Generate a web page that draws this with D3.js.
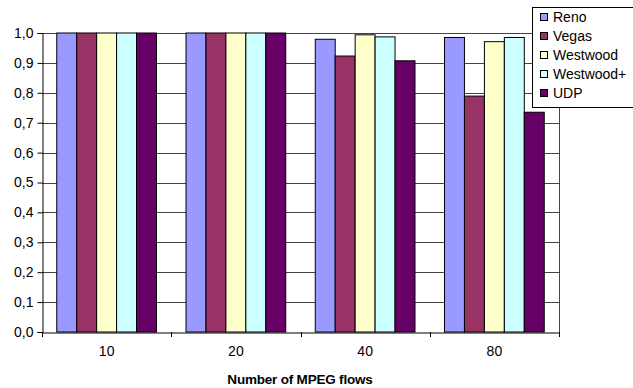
<!DOCTYPE html>
<html>
<head>
<meta charset="utf-8">
<script src="https://cdn.jsdelivr.net/npm/d3@7"></script>
<style>
body { margin: 0; background: #fff; }
text { font-family: Arial, "Liberation Sans", sans-serif; }
</style>
</head>
<body>
<svg id="chart" width="633" height="388"></svg>
<script>
var categories = ["10", "20", "40", "80"];
var seriesNames = ["Reno", "Vegas", "Westwood", "Westwood+", "UDP"];
var reno = [1.0, 1.0, 0.979, 0.985];
var vegas = [1.0, 1.0, 0.923, 0.789];
var westwood = [1.0, 1.0, 0.994, 0.971];
var westwoodPlus = [1.0, 1.0, 0.987, 0.985];
var udp = [1.0, 1.0, 0.907, 0.735];
var yTicks = [0, 0.1, 0.2, 0.3, 0.4, 0.5, 0.6, 0.7, 0.8, 0.9, 1.0];
var colors = ["#9999ff", "#993366", "#ffffcc", "#ccffff", "#660066"];

var seriesValues = [reno, vegas, westwood, westwoodPlus, udp];

var svg = d3.select("#chart");
var plotLeft = 42, plotRight = 559, plotTop = 33, plotBottom = 332;

var x = d3.scaleBand().domain(categories).range([plotLeft, plotRight]).paddingInner(0).paddingOuter(0);
var xs = d3.scaleBand().domain(seriesNames).range([0, x.bandwidth()]).paddingInner(0).paddingOuter(0.74);
var y = d3.scaleLinear().domain([0, 1]).range([plotBottom, plotTop]);

// gridlines
svg.append("g").selectAll("line").data(yTicks.slice(1))
    .enter().append("line")
    .attr("x1", plotLeft).attr("x2", plotRight)
    .attr("y1", d => Math.round(y(d)) + 0.5).attr("y2", d => Math.round(y(d)) + 0.5)
    .style("stroke", "#444").style("stroke-width", 1);

// bars
var groups = svg.append("g").selectAll("g").data(categories)
    .enter().append("g")
    .attr("transform", d => "translate(" + x(d) + ",0)");
groups.selectAll("rect")
    .data((c, ci) => seriesNames.map((s, si) => ({s: s, si: si, v: seriesValues[si][ci]})))
    .enter().append("rect")
    .attr("x", d => xs(d.s))
    .attr("width", xs.bandwidth())
    .attr("y", d => y(d.v))
    .attr("height", d => y(0) - y(d.v))
    .style("fill", d => colors[d.si])
    .style("stroke", "#000").style("stroke-width", 1);

// right border of plot
svg.append("line").attr("x1", plotRight + 0.5).attr("x2", plotRight + 0.5).attr("y1", plotTop).attr("y2", plotBottom)
    .style("stroke", "#444");

// y axis
var yAxis = svg.append("g").attr("transform", "translate(" + (plotLeft + 0.5) + ",0)")
    .call(d3.axisLeft(y).tickValues(yTicks).tickSize(5).tickPadding(4)
        .tickFormat(d => d3.format(".1f")(d).replace(".", ",")));
yAxis.selectAll("text").style("font-size", "14px").style("fill", "#000");
yAxis.selectAll("line, path").style("stroke", "#000");

// x axis
var xAxis = svg.append("g").attr("transform", "translate(0," + (plotBottom + 0.5) + ")")
    .call(d3.axisBottom(x).tickSize(0).tickPadding(14));
xAxis.select(".domain").style("stroke", "#000");
xAxis.selectAll("text").style("font-size", "14px").style("fill", "#000");
svg.append("g").selectAll("line").data(d3.range(categories.length + 1))
    .enter().append("line")
    .attr("x1", i => Math.round(plotLeft + i * x.step()) + 0.5)
    .attr("x2", i => Math.round(plotLeft + i * x.step()) + 0.5)
    .attr("y1", plotBottom).attr("y2", plotBottom + 5)
    .style("stroke", "#000");

svg.append("text").attr("x", 300).attr("y", 384)
    .attr("text-anchor", "middle")
    .style("font-size", "13.5px").style("font-weight", "bold").style("letter-spacing", "-0.2px")
    .text("Number of MPEG flows");

// legend
var legend = svg.append("g").attr("transform", "translate(532,7)");
legend.append("rect").attr("x", 0.5).attr("y", 0.5).attr("width", 120).attr("height", 100)
    .style("fill", "#fff").style("stroke", "#000");
var items = legend.selectAll(".item").data(seriesNames)
    .enter().append("g")
    .attr("transform", (d, i) => "translate(0," + (10 + i * 19) + ")");
items.append("rect").attr("x", 8.5).attr("y", -3.5).attr("width", 7).attr("height", 7)
    .style("fill", (d, i) => colors[i]).style("stroke", "#000");
items.append("text").attr("x", 21).attr("y", 5)
    .style("font-size", "14px").text(d => d);
</script>
</body>
</html>
